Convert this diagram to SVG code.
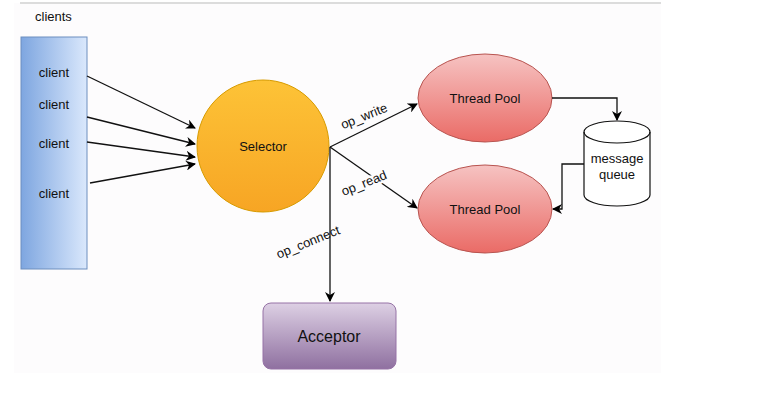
<svg xmlns="http://www.w3.org/2000/svg" width="767" height="401" viewBox="0 0 767 401">
<defs>
<linearGradient id="gBlue" x1="0" y1="0" x2="1" y2="0"><stop offset="0" stop-color="#7ea6e0"/><stop offset="1" stop-color="#dae8fc"/></linearGradient>
<linearGradient id="gOrange" x1="0" y1="0" x2="0" y2="1"><stop offset="0" stop-color="#fdc337"/><stop offset="1" stop-color="#f7a524"/></linearGradient>
<linearGradient id="gRed" x1="0" y1="0" x2="0" y2="1"><stop offset="0" stop-color="#f6c3c2"/><stop offset="1" stop-color="#ea6b66"/></linearGradient>
<linearGradient id="gPurple" x1="0" y1="0" x2="0" y2="1"><stop offset="0" stop-color="#ddd0e4"/><stop offset="1" stop-color="#8f70a0"/></linearGradient>
<marker id="arr" viewBox="0 0 10 10" refX="9" refY="5" markerWidth="10" markerHeight="10" markerUnits="userSpaceOnUse" orient="auto">
<path d="M0,0 L10,5 L0,10 L3,5 z" fill="#000"/>
</marker>
<style>
text{font-family:"Liberation Sans",Arial,sans-serif;fill:#111;}
.lbl{font-size:13px;text-anchor:middle;dominant-baseline:central;}
.edge{fill:none;stroke:#111;stroke-width:1.3;marker-end:url(#arr);}
.elbl{font-size:13px;text-anchor:middle;dominant-baseline:central;}
</style>
</defs>
<rect x="0" y="0" width="767" height="401" fill="#ffffff"/>
<rect x="14" y="3" width="647" height="370" fill="#fdfcfd"/>
<line x1="20" y1="3" x2="661" y2="3" stroke="#dcdcdc" stroke-width="2"/>
<text x="35" y="16" style="font-size:13px;dominant-baseline:central;">clients</text>

<g id="clients">
<rect x="21" y="37" width="66" height="232" fill="url(#gBlue)" stroke="#6c8ebf" stroke-width="1"/>
<text class="lbl" x="54" y="72">client</text>
<text class="lbl" x="54" y="104">client</text>
<text class="lbl" x="54" y="143">client</text>
<text class="lbl" x="54" y="193">client</text>
</g>

<g id="selector">
<circle cx="263" cy="146" r="66" fill="url(#gOrange)" stroke="#d79b00" stroke-width="1"/>
<text class="lbl" x="263" y="146">Selector</text>
</g>

<g id="threadpool1">
<ellipse cx="485" cy="98" rx="67" ry="44" fill="url(#gRed)" stroke="#b85450" stroke-width="1"/>
<text class="lbl" x="485" y="98">Thread Pool</text>
</g>

<g id="threadpool2">
<ellipse cx="485" cy="209" rx="67" ry="44" fill="url(#gRed)" stroke="#b85450" stroke-width="1"/>
<text class="lbl" x="485" y="209">Thread Pool</text>
</g>

<g id="messagequeue">
<path d="M584,132 A33,11 0 0 1 650,132 L650,195 A33,11 0 0 1 584,195 Z" fill="#ffffff" stroke="#111" stroke-width="1.2"/>
<path d="M584,132 A33,11 0 0 0 650,132" fill="none" stroke="#111" stroke-width="1.2"/>
<text class="lbl" x="617" y="158">message</text>
<text class="lbl" x="617" y="174">queue</text>
</g>

<g id="acceptor">
<rect x="263" y="303" width="133" height="66" rx="8" ry="8" fill="url(#gPurple)" stroke="#9673a6" stroke-width="1"/>
<text class="lbl" x="329" y="336" style="font-size:16px;">Acceptor</text>
</g>

<g id="connectors">
<line class="edge" x1="87" y1="76" x2="195" y2="128"/>
<line class="edge" x1="87" y1="117" x2="195" y2="144"/>
<line class="edge" x1="87" y1="142" x2="195" y2="157"/>
<line class="edge" x1="90" y1="183" x2="195" y2="164"/>
<line class="edge" x1="330" y1="147" x2="417" y2="104"/>
<line class="edge" x1="330" y1="147" x2="417" y2="208"/>
<line class="edge" x1="330" y1="147" x2="330" y2="301"/>
<path class="edge" d="M552,98 L617,98 L617,120"/>
<path class="edge" d="M584,164 L562,164 L562,209 L553,209"/>
<text class="elbl" transform="translate(364,116) rotate(-22)">op_write</text>
<text class="elbl" transform="translate(364,183) rotate(-22)" style="paint-order:stroke;stroke:#fdfcfd;stroke-width:5px;">op_read</text>
<text class="elbl" transform="translate(308,242) rotate(-22)">op_connect</text>
</g>
</svg>
